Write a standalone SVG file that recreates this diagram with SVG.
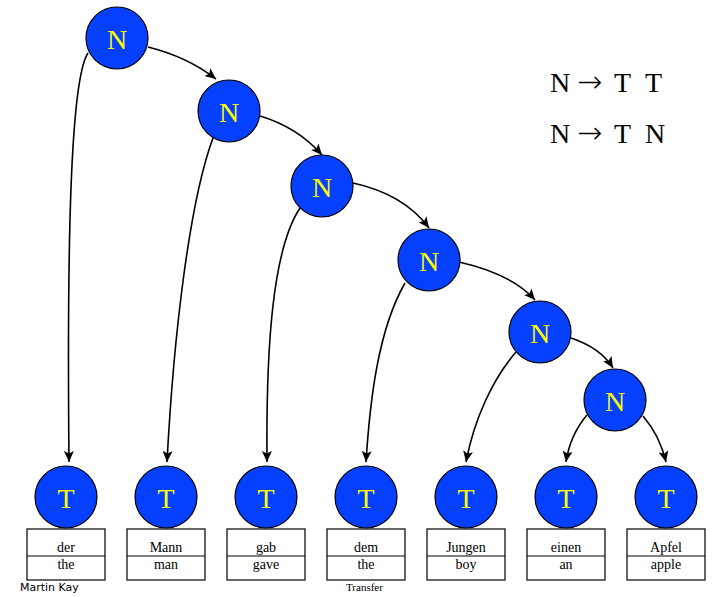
<svg xmlns="http://www.w3.org/2000/svg" width="714" height="597" viewBox="0 0 714 597">
<style>
.node circle{fill:#0540ff;stroke:#000;stroke-width:1.2}
.node text{fill:#ffff00;font-family:"Liberation Serif",serif;font-size:28px;text-anchor:middle}
.box rect{fill:#fff;stroke:#000;stroke-width:1.2}
.box line{stroke:#000;stroke-width:1.2}
.box text{fill:#000;font-family:"Liberation Serif",serif;font-size:14px;text-anchor:middle}
.edge{fill:none;stroke:#000;stroke-width:1.6;marker-end:url(#ah)}
.rule{font-family:"Liberation Serif","DejaVu Serif",serif;font-size:28px;fill:#000}
.arr{font-family:"DejaVu Sans",sans-serif;font-size:30px;font-weight:200}
</style>
<defs>
<marker id="ah" markerUnits="userSpaceOnUse" markerWidth="12" markerHeight="10" refX="11" refY="5" orient="auto">
<path d="M0,0 L11,5 L0,10 L2.5,5 Z" fill="#000"/>
</marker>
</defs>
<rect width="714" height="597" fill="#fff"/>
<g id="connectors">
<path class="edge" d="M148,47 C176,54 198,65 216,79"/>
<path class="edge" d="M88,53 C70,80 67,250 69,462"/>
<path class="edge" d="M260,116 C287,124 307,138 322,155"/>
<path class="edge" d="M213,138 C190,200 174,330 167,462"/>
<path class="edge" d="M353,183 C385,190 412,205 429,228"/>
<path class="edge" d="M300,208 C272,250 266,350 267,462"/>
<path class="edge" d="M459,262 C494,270 520,283 535,300"/>
<path class="edge" d="M405,283 C378,330 370,400 366,462"/>
<path class="edge" d="M571,338 C592,345 605,355 613,368"/>
<path class="edge" d="M516,352 C492,380 474,420 466,462"/>
<path class="edge" d="M587,415 C576,428 569,442 566,462"/>
<path class="edge" d="M643,416 C655,430 662,445 666,462"/>
</g>
<g id="N1" class="node"><circle cx="117" cy="38" r="31"/><text x="117" y="49">N</text></g>
<g id="N2" class="node"><circle cx="229" cy="111" r="31"/><text x="229" y="122">N</text></g>
<g id="N3" class="node"><circle cx="322" cy="186" r="31"/><text x="322" y="197">N</text></g>
<g id="N4" class="node"><circle cx="429" cy="260" r="31"/><text x="429" y="271">N</text></g>
<g id="N5" class="node"><circle cx="540" cy="332" r="31"/><text x="540" y="343">N</text></g>
<g id="N6" class="node"><circle cx="615" cy="400" r="31"/><text x="615" y="411">N</text></g>
<g id="T1" class="node"><circle cx="66" cy="497" r="31"/><text x="66" y="508">T</text></g>
<g id="T2" class="node"><circle cx="166" cy="497" r="31"/><text x="166" y="508">T</text></g>
<g id="T3" class="node"><circle cx="266" cy="497" r="31"/><text x="266" y="508">T</text></g>
<g id="T4" class="node"><circle cx="366" cy="497" r="31"/><text x="366" y="508">T</text></g>
<g id="T5" class="node"><circle cx="466" cy="497" r="31"/><text x="466" y="508">T</text></g>
<g id="T6" class="node"><circle cx="566" cy="497" r="31"/><text x="566" y="508">T</text></g>
<g id="T7" class="node"><circle cx="666" cy="497" r="31"/><text x="666" y="508">T</text></g>
<g id="B1" class="box"><rect x="27" y="529" width="78" height="51"/><line x1="27" y1="556" x2="105" y2="556"/><text x="66" y="552">der</text><text x="66" y="569">the</text></g>
<g id="B2" class="box"><rect x="127" y="529" width="78" height="51"/><line x1="127" y1="556" x2="205" y2="556"/><text x="166" y="552">Mann</text><text x="166" y="569">man</text></g>
<g id="B3" class="box"><rect x="227" y="529" width="78" height="51"/><line x1="227" y1="556" x2="305" y2="556"/><text x="266" y="552">gab</text><text x="266" y="569">gave</text></g>
<g id="B4" class="box"><rect x="327" y="529" width="78" height="51"/><line x1="327" y1="556" x2="405" y2="556"/><text x="366" y="552">dem</text><text x="366" y="569">the</text></g>
<g id="B5" class="box"><rect x="427" y="529" width="78" height="51"/><line x1="427" y1="556" x2="505" y2="556"/><text x="466" y="552">Jungen</text><text x="466" y="569">boy</text></g>
<g id="B6" class="box"><rect x="527" y="529" width="78" height="51"/><line x1="527" y1="556" x2="605" y2="556"/><text x="566" y="552">einen</text><text x="566" y="569">an</text></g>
<g id="B7" class="box"><rect x="627" y="529" width="78" height="51"/><line x1="627" y1="556" x2="705" y2="556"/><text x="666" y="552">Apfel</text><text x="666" y="569">apple</text></g>
<g id="legend">
<text class="rule" y="92"><tspan x="550">N</tspan><tspan class="arr" x="577">→</tspan><tspan x="614">T</tspan><tspan x="645">T</tspan></text>
<text class="rule" y="143"><tspan x="550">N</tspan><tspan class="arr" x="577">→</tspan><tspan x="614">T</tspan><tspan x="645">N</tspan></text>
</g>
<text x="20" y="591" font-family="'DejaVu Sans',sans-serif" font-size="11" fill="#000">Martin Kay</text>
<text x="346" y="591" font-family="'Liberation Serif',serif" font-size="11" fill="#000">Transfer</text>
</svg>
